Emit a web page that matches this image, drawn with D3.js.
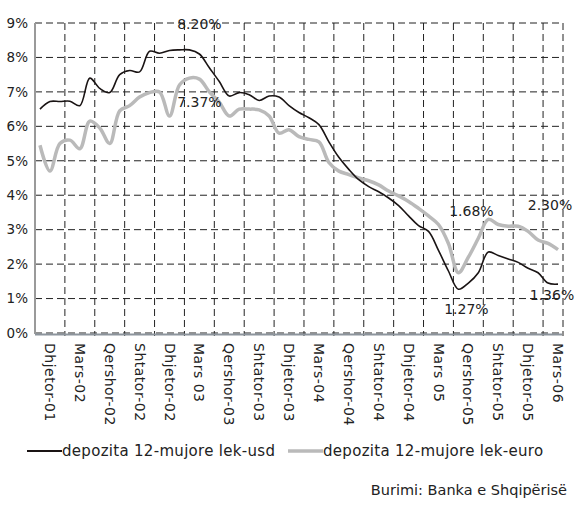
<!DOCTYPE html>
<html>
<head>
<meta charset="utf-8">
<script src="https://cdnjs.cloudflare.com/ajax/libs/d3/7.8.5/d3.min.js"></script>
<style>
  body { margin: 0; background: #fff; }
  svg text { font-family: "DejaVu Sans", "Noto Sans", sans-serif; fill: #222; }
</style>
</head>
<body>
<svg id="chart" width="575" height="506"></svg>
<script>
// monthly rates, Dhjetor-01 .. Prill-06
var usd = [6.5, 6.72, 6.72, 6.73, 6.6, 7.4, 7.1, 6.98, 7.5, 7.62,
    7.58, 8.18, 8.12, 8.2, 8.22, 8.22, 8.1, 7.7, 7.3, 6.88,
    6.98, 6.92, 6.75, 6.88, 6.85, 6.6, 6.4, 6.25, 6.05, 5.55,
    5.1, 4.75, 4.45, 4.25, 4.1, 3.92, 3.7, 3.4, 3.12, 2.95,
    2.4, 1.8, 1.27, 1.45, 1.75, 2.35, 2.25, 2.15, 2.05, 1.88,
    1.75, 1.45, 1.42];
var euro = [5.45, 4.7, 5.5, 5.6, 5.35, 6.15, 5.95, 5.5, 6.45, 6.6,
    6.85, 6.98, 7.0, 6.3, 7.2, 7.4, 7.37, 7.0, 6.7, 6.3,
    6.5, 6.5, 6.48, 6.3, 5.8, 5.9, 5.7, 5.62, 5.55, 4.95,
    4.7, 4.6, 4.5, 4.42, 4.3, 4.12, 3.98, 3.82, 3.62, 3.4,
    3.15, 2.6, 1.75, 2.2, 2.75, 3.3, 3.15, 3.1, 3.1, 2.95,
    2.7, 2.6, 2.42];
var tickLabels = ["Dhjetor-01", "Mars-02", "Qershor-02", "Shtator-02", "Dhjetor-02",
    "Mars 03", "Qershor-03", "Shtator-03", "Dhjetor-03", "Mars-04", "Qershor-04",
    "Shtator-04", "Dhjetor-04", "Mars 05", "Qershor-05", "Shtator-05", "Dhjetor-05", "Mars-06"];
var yTicks = [0, 1, 2, 3, 4, 5, 6, 7, 8, 9];
var notes = [
    {text: "8.20%", i: 16, v: 8.2, dx: 0, dy: -22},
    {text: "7.37%", i: 16, v: 7.37, dx: 0, dy: 28},
    {text: "1.68%", i: 42, v: 1.75, dx: 13, dy: -57},
    {text: "2.30%", i: 52, v: 2.42, dx: -8, dy: -40},
    {text: "1.27%", i: 42, v: 1.27, dx: 8, dy: 25},
    {text: "1.36%", i: 52, v: 1.42, dx: -6, dy: 16}
];
var seriesNames = ["depozita 12-mujore lek-usd", "depozita 12-mujore lek-euro"];

var svg = d3.select("svg#chart");
var plotLeft = 35, plotRight = 563, plotTop = 23, plotBottom = 333;

var x = d3.scaleLinear().domain([0, usd.length]).range([plotLeft, plotRight]);
var y = d3.scaleLinear().domain([0, 9]).range([plotBottom, plotTop]);

// grid
var grid = svg.append("g").attr("class", "grid");
grid.selectAll("line.h")
    .data(yTicks)
    .enter().append("line")
        .attr("x1", plotLeft).attr("x2", plotRight)
        .attr("y1", function(d) { return y(d); })
        .attr("y2", function(d) { return y(d); })
        .attr("stroke", "#222")
        .attr("stroke-dasharray", "7,4");
grid.selectAll("line.v")
    .data(d3.range(1, tickLabels.length).map(function(k) { return k * 3; }).concat([usd.length]))
    .enter().append("line")
        .attr("x1", function(d) { return x(d); })
        .attr("x2", function(d) { return x(d); })
        .attr("y1", plotTop).attr("y2", plotBottom + 3)
        .attr("stroke", "#222")
        .attr("stroke-dasharray", "7,4");

// axes lines
svg.append("line")
    .attr("x1", plotLeft).attr("x2", plotLeft)
    .attr("y1", plotTop).attr("y2", plotBottom + 1)
    .attr("stroke", "#9a9a9a").attr("stroke-width", 2);
svg.append("line")
    .attr("x1", plotLeft).attr("x2", plotRight - 1)
    .attr("y1", plotBottom + 1.5).attr("y2", plotBottom + 1.5)
    .attr("stroke", "#8c949c").attr("stroke-width", 2);

// y labels
svg.append("g")
    .selectAll("text")
    .data(yTicks)
    .enter().append("text")
        .attr("x", 28)
        .attr("y", function(d) { return y(d); })
        .attr("dy", "0.35em")
        .attr("text-anchor", "end")
        .attr("font-size", 13.5)
        .text(function(d) { return d + "%"; });

// x labels, rotated
svg.append("g")
    .selectAll("text")
    .data(tickLabels)
    .enter().append("text")
        .attr("transform", function(d, i) {
            return "translate(" + x(i * 3 + 1.5) + "," + (plotBottom + 10) + ") rotate(90)";
        })
        .attr("dy", "0.35em")
        .attr("text-anchor", "start")
        .attr("font-size", 14)
        .attr("letter-spacing", 0.5)
        .text(function(d) { return d; });

// lines
var line = d3.line()
    .x(function(d, i) { return x(i + 0.5); })
    .y(function(d) { return y(d); })
    .curve(d3.curveCatmullRom);

svg.append("path")
    .datum(euro)
    .attr("d", line)
    .attr("fill", "none")
    .attr("stroke", "#bababa")
    .attr("stroke-width", 3.5);
svg.append("path")
    .datum(usd)
    .attr("d", line)
    .attr("fill", "none")
    .attr("stroke", "#1a1414")
    .attr("stroke-width", 1.6);

// value notes
svg.append("g")
    .selectAll("text")
    .data(notes)
    .enter().append("text")
        .attr("x", function(d) { return x(d.i + 0.5) + d.dx; })
        .attr("y", function(d) { return y(d.v) + d.dy; })
        .attr("text-anchor", "middle")
        .attr("font-size", 14)
        .attr("fill", "#333")
        .text(function(d) { return d.text; });

// legend
var legend = svg.append("g").attr("transform", "translate(0,451)");
legend.append("line").attr("x1", 27).attr("x2", 62).attr("y1", 0).attr("y2", 0)
    .attr("stroke", "#1a1414").attr("stroke-width", 2);
legend.append("text").attr("x", 62).attr("y", 0).attr("dy", "0.35em")
    .attr("font-size", 15).attr("letter-spacing", 0.3).text(seriesNames[0]);
legend.append("line").attr("x1", 288).attr("x2", 323).attr("y1", 0).attr("y2", 0)
    .attr("stroke", "#bababa").attr("stroke-width", 3.5);
legend.append("text").attr("x", 323).attr("y", 0).attr("dy", "0.35em")
    .attr("font-size", 15).attr("letter-spacing", 0.3).text(seriesNames[1]);

svg.append("text")
    .attr("x", 567).attr("y", 495)
    .attr("text-anchor", "end")
    .attr("font-size", 14.5)
    .text("Burimi: Banka e Shqipërisë");
</script>
</body>
</html>
